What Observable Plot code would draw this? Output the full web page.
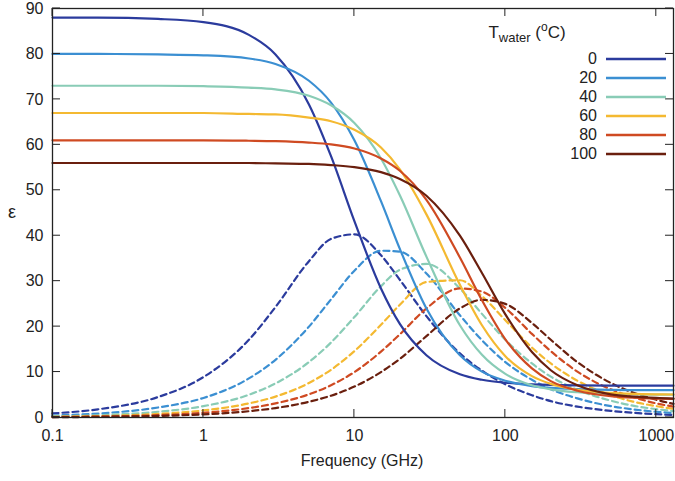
<!DOCTYPE html>
<html><head><meta charset="utf-8">
<script src="https://cdn.jsdelivr.net/npm/d3@7"></script>
<script src="https://cdn.jsdelivr.net/npm/@observablehq/plot@0.6"></script>
<style>body{margin:0;background:#fff;font-family:"Liberation Sans",Arial,sans-serif}#wrap{position:relative;width:675px;height:481px}</style>
</head><body><div id="wrap"></div>
<script>
const freqs=[0.1,0.2,0.5,1,2,3,5,7,10,15,20,30,50,70,100,150,200,300,500,700,1000,1300];
const temps=["0","20","40","60","80","100"];
const colors=["#2b3b9d","#3b8fd2","#89ccb6","#f4b931","#cf4a22","#6a1f0e"];
const real0=[88,88,87.7,87,84.2,79.9,68.9,57.5,43.2,28.4,20.6,13.7,9.5,8.3,7.65,7.3,7.16,7.07,7.03,7.01,7,7];
const imag0=[0.9,1.8,4.5,8.9,17.1,24.3,34.4,39.3,40.3,35.7,30.3,22.3,14.1,10.3,7.3,4.9,3.6,2.4,1.46,1.04,0.73,0.56];
const real20=[80,80,79.9,79.7,79,77.8,74.1,69.3,61,47.6,37.1,24,13.7,10.1,8.1,6.9,6.5,6.24,6.09,6.04,6.02,6.01];
const imag20=[0.44,0.87,2.2,4.3,8.6,12.7,20,26,32.3,36.7,36.5,31.7,22.5,17,12.2,8.3,6.2,4.2,2.5,1.8,1.26,0.97];
const real40=[73,73,73,72.9,72.6,72.2,70.8,68.7,64.8,57,48.9,35.4,20.3,13.8,9.6,7.1,6.2,5.55,5.2,5.1,5.05,5.03];
const imag40=[0.25,0.5,1.26,2.5,5,7.5,12.2,16.5,22.1,28.9,32.5,33.8,28.4,22.8,17.1,11.9,9,6.1,3.7,2.6,1.84,1.41];
const real60=[67,67,67,67,66.8,66.7,66,65.2,63.3,59.4,54.6,44.7,29.2,20.3,13.5,9.1,7.4,6.1,5.4,5.2,5.1,5.06];
const imag60=[0.16,0.31,0.78,1.55,3.1,4.6,7.6,10.5,14.6,20.4,24.8,29.8,30.2,26.7,21.4,15.4,11.9,8.1,4.9,3.5,2.5,1.9];
const real80=[61,61,61,61,60.9,60.8,60.5,60.1,59.2,57,54.3,47.9,35.2,25.8,17.2,10.8,8,5.9,4.7,4.35,4.17,4.1];
const imag80=[0.1,0.21,0.52,1.04,2.07,3.1,5.1,7.1,10,14.5,18.3,24,28.4,27.7,24.1,18.4,14.6,10.1,6.2,4.5,3.1,2.4];
const real100=[56,56,56,56,56,55.9,55.8,55.55,55.1,54,52.5,48.8,40,31.8,22.7,14.4,10.4,7.1,5.1,4.6,4.3,4.17];
const imag100=[0.07,0.14,0.35,0.69,1.39,2.08,3.46,4.8,6.8,10,12.9,17.9,24,25.9,25,20.8,17.1,12.2,7.6,5.5,3.9,3.0];
const xTicks=[0.1,1,10,100,1000];
const yTicks=[0,10,20,30,40,50,60,70,80,90];
const reals=[real0,real20,real40,real60,real80,real100];
const imags=[imag0,imag20,imag40,imag60,imag80,imag100];
const rows=[];
temps.forEach((t,i)=>freqs.forEach((f,j)=>{rows.push({t,f,v:reals[i][j],k:"r"});rows.push({t,f,v:imags[i][j],k:"i"});}));
const plot=Plot.plot({
  width:675,height:481,marginLeft:52,marginRight:2,marginTop:8,marginBottom:64,
  style:{fontSize:"16px",fontFamily:"Liberation Sans,Arial,sans-serif",color:"#222"},
  x:{type:"log",domain:[0.1,1300],ticks:xTicks,tickFormat:d=>String(d),tickSize:0,tickPadding:12,label:null},
  y:{domain:[0,90],ticks:yTicks,tickSize:0,label:null},
  color:{domain:temps,range:colors},
  marks:[
    Plot.line(rows.filter(d=>d.k==="i"),{x:"f",y:"v",z:"t",stroke:"t",strokeWidth:2.2,strokeDasharray:"6,4",curve:"monotone-x"}),
    Plot.line(rows.filter(d=>d.k==="r"),{x:"f",y:"v",z:"t",stroke:"t",strokeWidth:2.2,curve:"monotone-x"}),
    Plot.frame({stroke:"#222",strokeWidth:1.3})
  ]
});
document.getElementById("wrap").appendChild(plot);
const svg=d3.select(plot);
const xs=plot.scale("x"),ys=plot.scale("y");
const tg=svg.append("g").attr("stroke","#222");
xTicks.forEach(v=>{const X=xs.apply(v);
  tg.append("line").attr("x1",X).attr("x2",X).attr("y1",417).attr("y2",409);
  tg.append("line").attr("x1",X).attr("x2",X).attr("y1",8).attr("y2",16);});
yTicks.forEach(v=>{const Y=ys.apply(v);
  tg.append("line").attr("x1",52).attr("x2",60).attr("y1",Y).attr("y2",Y);
  tg.append("line").attr("x1",673).attr("x2",665).attr("y1",Y).attr("y2",Y);});
svg.append("text").attr("x",362).attr("y",466).attr("text-anchor","middle").attr("font-size",16).attr("fill","#222").text("Frequency (GHz)");
svg.append("text").attr("x",12).attr("y",218).attr("text-anchor","middle").attr("font-size",18).attr("fill","#222").text("ε");
const lg=svg.append("g");
lg.append("text").attr("x",527).attr("y",38).attr("font-size",17).attr("fill","#222").html('T<tspan font-size="13" dy="4">water</tspan><tspan dy="-4"> (</tspan><tspan font-size="12" dy="-7">o</tspan><tspan dy="7">C)</tspan>');
temps.forEach((t,i)=>{const Y=59+i*19;
  lg.append("text").attr("x",597).attr("y",Y+5).attr("text-anchor","end").attr("font-size",16).attr("fill","#222").text(t);
  lg.append("line").attr("x1",606).attr("x2",666).attr("y1",Y).attr("y2",Y).attr("stroke",colors[i]).attr("stroke-width",2.5);});
</script></body></html>
